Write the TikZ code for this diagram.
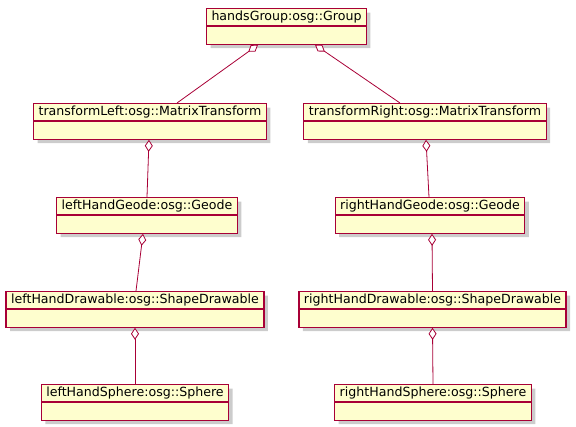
\documentclass[tikz,border=0pt]{standalone}
\usepackage{fontspec}
\setmainfont{DejaVu Sans}
\usetikzlibrary{shapes.multipart, shadows, arrows.meta}
\definecolor{umlborder}{HTML}{A80036}
\definecolor{umlfill}{HTML}{FEFECE}

\begin{document}
\begin{tikzpicture}[x=1pt, y=-1pt,
	object/.style={draw=umlborder, fill=umlfill, line width=1.2pt,
		rectangle split, rectangle split parts=2,
		rectangle split empty part height=13pt,
		inner xsep=5pt, inner ysep=2pt, anchor=north,
		font=\fontsize{12.6}{15}\selectfont,
		drop shadow={shadow xshift=4pt, shadow yshift=-4pt,
			fill=black!40, opacity=.5}},
	link/.style={draw=umlborder, line width=0.8pt,
		{Diamond[fill=white, length=12pt, width=8pt]}-{}}]
	\useasboundingbox (0,0) rectangle (576,427);

	\node[object] (hands)      at (286.5,8) {handsGroup:osg::Group};
	\node[object] (transLeft)  at (150,103) {transformLeft:osg::MatrixTransform};
	\node[object] (transRight) at (425,103) {transformRight:osg::MatrixTransform};
	\node[object] (geodeLeft)  at (147,197) {leftHandGeode:osg::Geode};
	\node[object] (geodeRight) at (430,197) {rightHandGeode:osg::Geode};
	\node[object] (drawLeft)   at (135,291) {leftHandDrawable:osg::ShapeDrawable};
	\node[object] (drawRight)  at (432.5,291) {rightHandDrawable:osg::ShapeDrawable};
	\node[object] (sphLeft)    at (135,384) {leftHandSphere:osg::Sphere};
	\node[object] (sphRight)   at (433,384) {rightHandSphere:osg::Sphere};

	\draw[link] ([xshift=-28.5pt]hands.south) -- ([xshift=27pt]transLeft.north);
	\draw[link] ([xshift=28.5pt]hands.south) -- ([xshift=-25pt]transRight.north);
	\draw[link] ([xshift=-1pt]transLeft.south) -- (geodeLeft.north);
	\draw[link] ([xshift=1pt]transRight.south) -- ([xshift=-1pt]geodeRight.north);
	\draw[link] ([xshift=-4pt]geodeLeft.south) -- ([xshift=1pt]drawLeft.north);
	\draw[link] ([xshift=2pt]geodeRight.south) -- (drawRight.north);
	\draw[link] (drawLeft.south) -- (sphLeft.north);
	\draw[link] (drawRight.south) -- (sphRight.north);
\end{tikzpicture}
\end{document}
